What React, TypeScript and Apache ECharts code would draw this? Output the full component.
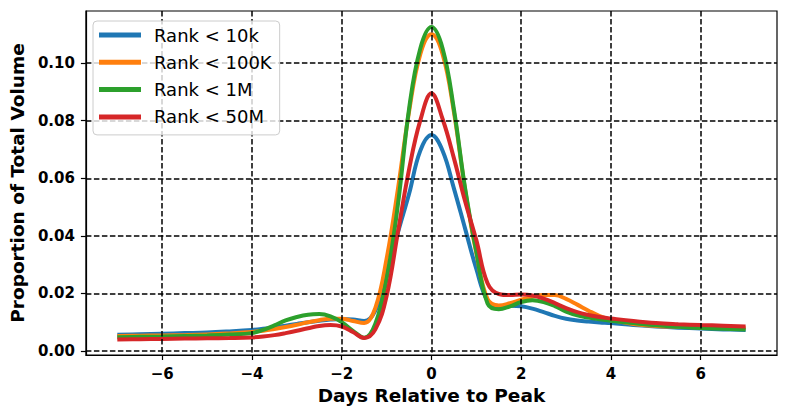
import React, { useEffect, useRef } from "react";
import * as echarts from "echarts";

const X = [
  -7, -6.5, -6, -5.5, -5, -4.5, -4,
  -3.75, -3.5, -3.25, -3, -2.75, -2.5, -2.25, -2, -1.75, -1.5, -1.25, -1, -0.75, -0.5, -0.25,
  0, 0.25, 0.5, 0.75, 1, 1.25, 1.5, 1.75, 2, 2.25, 2.5, 2.75, 3, 3.25, 3.5, 3.75, 4,
  4.5, 5, 5.5, 6, 6.5, 7,
];

const RANK_10K = [
  0.0056, 0.0058, 0.006, 0.0062, 0.0064, 0.0068, 0.0073,
  0.0077, 0.0082, 0.0088, 0.0094, 0.01, 0.0105, 0.0109, 0.0111, 0.0109, 0.0104, 0.014, 0.0265, 0.041, 0.0545, 0.0695,
  0.075, 0.0695, 0.0565, 0.0425, 0.0285, 0.0175, 0.0156, 0.0157, 0.0155, 0.0147, 0.0135, 0.0122, 0.0112, 0.0106, 0.0102, 0.0099, 0.0097,
  0.009, 0.0085, 0.0081, 0.0078, 0.0075, 0.0073,
];

const RANK_100K = [
  0.0052, 0.0053, 0.0054, 0.0055, 0.0057, 0.0061, 0.0066,
  0.007, 0.0076, 0.0083, 0.0091, 0.01, 0.0107, 0.0112, 0.0112, 0.0104, 0.0097, 0.015, 0.032, 0.056, 0.083, 0.103,
  0.11, 0.103, 0.083, 0.056, 0.034, 0.018, 0.0158, 0.0166, 0.0178, 0.0188, 0.0194, 0.0194, 0.0181, 0.0161, 0.014, 0.0121, 0.0108,
  0.0094, 0.0087, 0.0084, 0.0082, 0.0081, 0.008,
];

const RANK_1M = [
  0.0048, 0.0049, 0.005, 0.0052, 0.0054, 0.0057, 0.0062,
  0.0073, 0.0089, 0.0106, 0.0118, 0.0126, 0.0128, 0.012, 0.01, 0.007, 0.0046, 0.0095, 0.025, 0.0505, 0.084, 0.105,
  0.1125, 0.105, 0.084, 0.0565, 0.0345, 0.0165, 0.0145, 0.0155, 0.017, 0.0176, 0.017, 0.0156, 0.0137, 0.0124, 0.0116, 0.011, 0.0105,
  0.0097, 0.0089, 0.0084, 0.008, 0.0077, 0.0075,
];

const RANK_50M = [
  0.004, 0.0041, 0.0042, 0.0043, 0.0044, 0.0045, 0.0047,
  0.005, 0.0055, 0.0062, 0.007, 0.0079, 0.0087, 0.009, 0.0085, 0.0066, 0.0045, 0.0075, 0.019, 0.041, 0.063, 0.08,
  0.0895, 0.0805, 0.067, 0.052, 0.0385, 0.0235, 0.0198, 0.0194, 0.0196, 0.0193, 0.0182, 0.0166, 0.0149, 0.0135, 0.0125, 0.0118, 0.0113,
  0.0104, 0.0097, 0.0093, 0.009, 0.0088, 0.0085,
];

const SERIES_NAMES = ["Rank < 10k", "Rank < 100K", "Rank < 1M", "Rank < 50M"];
const SERIES_COLORS = ["#1f77b4", "#ff7f0e", "#2ca02c", "#d62728"];
const X_TICKS = [-6, -4, -2, 0, 2, 4, 6];
const Y_TICKS = [0, 0.02, 0.04, 0.06, 0.08, 0.1];

const FONT = "DejaVu Sans";

export default function App() {
  const ref = useRef<HTMLDivElement>(null);
  useEffect(() => {
    if (!ref.current) return;
    const chart = echarts.init(ref.current, undefined, { renderer: "svg" });
    const all = [RANK_10K, RANK_100K, RANK_1M, RANK_50M];
    const gridLine = { show: true, lineStyle: { color: "#000", width: 1.5, type: [5.5, 2.5] as number[] } };
    chart.setOption({
      animation: false,
      backgroundColor: "#fff",
      grid: {
        left: 84, right: 12, top: 11, bottom: 62,
        show: true, borderColor: "#000", borderWidth: 1.2, backgroundColor: "transparent",
      },
      legend: {
        left: 93, top: 21, orient: "vertical",
        data: SERIES_NAMES,
        icon: "rect", itemWidth: 42, itemHeight: 5, itemGap: 7.3,
        padding: [4, 8, 8, 6],
        backgroundColor: "rgba(255,255,255,0.8)",
        borderColor: "#cccccc", borderWidth: 1, borderRadius: 4,
        textStyle: { fontFamily: FONT, fontSize: 18, color: "#000", lineHeight: 20, padding: [0, 0, 0, 8] },
      },
      xAxis: {
        type: "value", min: -7.7, max: 7.7, z: 3,
        name: "Days Relative to Peak", nameLocation: "middle", nameGap: 31,
        nameTextStyle: { fontFamily: FONT, fontSize: 18.5, fontWeight: "bold", color: "#000" },
        axisLine: { show: true, onZero: false, lineStyle: { color: "#000", width: 1.2 } },
        axisTick: { show: true, customValues: X_TICKS, length: 5, lineStyle: { color: "#000", width: 1.2 } },
        axisLabel: {
          customValues: X_TICKS, margin: 11,
          fontFamily: FONT, fontSize: 15, fontWeight: "bold", color: "#000",
          formatter: (v: number) => (v < 0 ? "\u2212" + Math.abs(v) : String(v)),
        },
        splitLine: gridLine,
      },
      yAxis: {
        type: "value", min: -0.0014, max: 0.1181, z: 3,
        name: "Proportion of Total Volume", nameLocation: "middle", nameGap: 55,
        nameTextStyle: { fontFamily: FONT, fontSize: 18.5, fontWeight: "bold", color: "#000" },
        axisLine: { show: true, onZero: false, lineStyle: { color: "#000", width: 1.2 } },
        axisTick: { show: true, customValues: Y_TICKS, length: 5, lineStyle: { color: "#000", width: 1.2 } },
        axisLabel: {
          customValues: Y_TICKS, margin: 11,
          fontFamily: FONT, fontSize: 15, fontWeight: "bold", color: "#000",
          formatter: (v: number) => v.toFixed(2),
        },
        splitLine: gridLine,
      },
      series: all.map((vals, i) => ({
        name: SERIES_NAMES[i],
        type: "line",
        data: X.map((x, j) => [x, vals[j]]),
        showSymbol: false,
        smooth: 0.4,
        color: SERIES_COLORS[i],
        lineStyle: { width: 4, color: SERIES_COLORS[i] },
        z: 2,
      })),
    });
    return () => chart.dispose();
  }, []);
  return <div ref={ref} style={{ position: "fixed", left: 0, top: 0, width: 789, height: 417 }} />;
}
